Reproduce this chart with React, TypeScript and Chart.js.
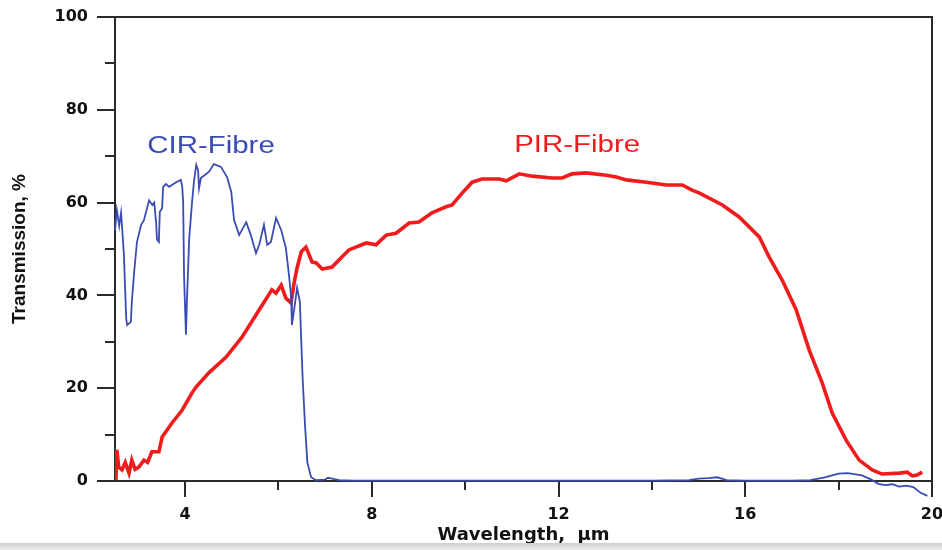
import React, { useEffect, useRef } from 'react';
import { Chart, registerables } from 'chart.js';

Chart.register(...registerables);

// CIR-Fibre (blue) spectrum
const cirWavelength = [
  2.5, 2.54, 2.59, 2.63, 2.67, 2.69, 2.74, 2.76, 2.84, 2.86,
  2.91, 2.97, 3.06, 3.12, 3.23, 3.3, 3.34, 3.38, 3.4, 3.44,
  3.46, 3.51, 3.53, 3.59, 3.66, 3.81, 3.91, 3.94, 3.96, 3.98,
  4.02, 4.04, 4.09, 4.15, 4.19, 4.24, 4.28, 4.3, 4.34, 4.51,
  4.62, 4.77, 4.9, 4.99, 5.05, 5.16, 5.31, 5.41, 5.52, 5.59,
  5.69, 5.76, 5.84, 5.95, 6.06, 6.16, 6.21, 6.27, 6.29, 6.36,
  6.4, 6.46, 6.49, 6.52, 6.57, 6.62, 6.7, 6.8, 7.0, 7.06,
  7.15, 7.3, 7.6, 8.0, 9.0, 10.0, 11.0, 12.0, 13.0, 14.0,
  14.8, 15.0, 15.2, 15.4, 15.6, 16.0, 17.0, 17.4, 17.7, 18.0,
  18.2, 18.5, 18.7, 18.85, 19.0, 19.15, 19.3, 19.45, 19.6, 19.75,
  19.9,
];
const cirTransmission = [
  54, 58.4, 55, 57.8, 52, 49, 35, 33.6, 34.3, 38.6,
  45, 51.5, 55.2, 56.2, 60.5, 59.5, 60, 55.8, 52, 51.5,
  58, 58.8, 63.4, 64, 63.4, 64.4, 64.9, 63.4, 60.1, 43.8,
  31.5, 38.6, 52.4, 60, 64.4, 68.1, 67, 63.1, 65.3, 66.6,
  68.3, 67.7, 65.5, 62.3, 56.3, 53, 55.8, 53, 49.1, 50.9,
  55.2, 50.9, 51.5, 56.7, 54.1, 50.2, 45.9, 40.1, 33.6, 38.6,
  41.6, 38.6, 30, 22, 12, 4, 0.8, 0.2, 0.3, 0.7,
  0.5, 0.2, 0.1, 0.1, 0.1, 0.1, 0.1, 0.1, 0.1, 0.1,
  0.2, 0.5, 0.6, 0.8, 0.2, 0.1, 0.1, 0.2, 0.8, 1.6,
  1.7, 1.2, 0.3, -0.6, -0.9, -0.7, -1.2, -1.0, -1.3, -2.5,
  -3.2,
];

// PIR-Fibre (red) spectrum
const pirWavelength = [
  2.52, 2.54, 2.58, 2.65, 2.72, 2.8, 2.86, 2.93, 3.01, 3.12,
  3.2, 3.29, 3.44, 3.51, 3.72, 3.94, 4.15, 4.24, 4.51, 4.88,
  5.22, 5.59, 5.86, 5.95, 6.06, 6.16, 6.27, 6.34, 6.4, 6.49,
  6.59, 6.66, 6.72, 6.81, 6.94, 7.15, 7.36, 7.51, 7.88, 8.09,
  8.31, 8.52, 8.8, 9.01, 9.29, 9.59, 9.72, 9.94, 10.15, 10.36,
  10.73, 10.88, 11.16, 11.44, 11.86, 12.08, 12.29, 12.59, 13.02, 13.24,
  13.45, 13.88, 14.31, 14.65, 14.86, 15.01, 15.51, 15.87, 16.3, 16.51,
  16.79, 17.09, 17.37, 17.65, 17.86, 18.16, 18.44, 18.72, 18.93, 19.3,
  19.47, 19.58, 19.68, 19.79,
];
const pirTransmission = [
  0.2, 6.7, 3, 2.4, 4, 1.7, 4.5, 2.5, 3, 4.5,
  4, 6.3, 6.3, 9.5, 12.5, 15.3, 19, 20.3, 23.3, 26.7,
  31, 36.9, 41.2, 40.5, 42.2, 39.4, 38.4, 42.9, 45.9, 49.4,
  50.4, 48.7, 47.2, 47, 45.7, 46.1, 48.3, 49.8, 51.3, 50.9,
  53, 53.4, 55.6, 55.8, 57.8, 59.1, 59.5, 62.1, 64.4, 65.1,
  65.1, 64.7, 66.2, 65.7, 65.3, 65.3, 66.2, 66.4, 65.9, 65.5,
  64.9, 64.4, 63.8, 63.8, 62.7, 62.1, 59.5, 56.9, 52.6, 48.3,
  43.3, 36.9, 28.2, 21.1, 14.7, 8.8, 4.5, 2.4, 1.5, 1.7,
  1.9, 1.1, 1.3, 1.9,
];

const xTickValues = [4, 8, 12, 16, 20];
const seriesNames = ['CIR-Fibre', 'PIR-Fibre'];
const xAxisTitle = 'Wavelength,  µm';
const yAxisTitle = 'Transmission, %';

// styling / placement (not data)
const seriesColors = ['#3a4cb4', '#f01b1b'];
const labelAnchors = [
  { x: 3.19, y: 70.7 },
  { x: 11.05, y: 70.9 },
];

const toPoints = (xs: number[], ys: number[]) => xs.map((x, i) => ({ x, y: ys[i] }));

const framePlugin = {
  id: 'frameAndTicks',
  beforeDatasetsDraw(chart: any) {
    const { ctx, chartArea, scales } = chart;
    const { left, right, top, bottom } = chartArea;
    ctx.save();
    ctx.strokeStyle = '#2a2a2a';
    ctx.lineWidth = 2;
    ctx.beginPath();
    ctx.rect(left, top, right - left, bottom - top);
    ctx.stroke();

    ctx.beginPath();
    const ys = scales.y;
    const yv = ys.ticks.map((t: any) => t.value);
    yv.forEach((v: number) => {
      const p = Math.round(ys.getPixelForValue(v));
      ctx.moveTo(left - 18, p);
      ctx.lineTo(left, p);
    });
    for (let i = 0; i < yv.length - 1; i++) {
      const p = Math.round(ys.getPixelForValue((yv[i] + yv[i + 1]) / 2));
      ctx.moveTo(left - 10, p);
      ctx.lineTo(left, p);
    }
    const xs = scales.x;
    const xv = xs.ticks.map((t: any) => t.value);
    xv.forEach((v: number) => {
      const p = Math.round(xs.getPixelForValue(v));
      ctx.moveTo(p, bottom);
      ctx.lineTo(p, bottom + 16);
    });
    for (let i = 0; i < xv.length - 1; i++) {
      const p = Math.round(xs.getPixelForValue((xv[i] + xv[i + 1]) / 2));
      ctx.moveTo(p, bottom);
      ctx.lineTo(p, bottom + 9);
    }
    ctx.stroke();
    ctx.restore();
  },
  afterDatasetsDraw(chart: any) {
    const { ctx, scales } = chart;
    ctx.save();
    ctx.font = '23px "Liberation Sans", Arial, sans-serif';
    ctx.textBaseline = 'alphabetic';
    ctx.textAlign = 'left';
    seriesNames.forEach((name, i) => {
      const px = scales.x.getPixelForValue(labelAnchors[i].x);
      const py = scales.y.getPixelForValue(labelAnchors[i].y);
      ctx.save();
      ctx.translate(px, py);
      ctx.scale(1.28, 1);
      ctx.fillStyle = seriesColors[i];
      ctx.fillText(name, 0, 0);
      ctx.restore();
    });
    ctx.restore();
  },
};

export default function App() {
  const canvasRef = useRef<HTMLCanvasElement | null>(null);

  useEffect(() => {
    if (!canvasRef.current) return;
    const chart = new Chart(canvasRef.current, {
      type: 'line',
      data: {
        datasets: [
          {
            label: seriesNames[0],
            data: toPoints(cirWavelength, cirTransmission),
            borderColor: seriesColors[0],
            borderWidth: 1.8,
            pointRadius: 0,
            tension: 0,
            fill: false,
            clip: false as any,
          },
          {
            label: seriesNames[1],
            data: toPoints(pirWavelength, pirTransmission),
            borderColor: seriesColors[1],
            borderWidth: 3.6,
            pointRadius: 0,
            tension: 0,
            fill: false,
          },
        ],
      },
      options: {
        animation: false,
        responsive: true,
        maintainAspectRatio: false,
        layout: { padding: { top: 17, right: 10, left: 0, bottom: 0 } },
        plugins: {
          legend: { display: false },
          tooltip: { enabled: false },
        },
        scales: {
          x: {
            type: 'linear',
            min: 2.5,
            max: 20,
            afterBuildTicks: (s: any) => {
              s.ticks = xTickValues.map((v) => ({ value: v }));
            },
            afterFit: (s: any) => {
              s.height = 69;
              s.paddingLeft = 0;
              s.paddingRight = 0;
            },
            grid: { display: false, drawTicks: false },
            border: { display: false },
            ticks: {
              padding: 24,
              color: '#111',
              font: { family: '"DejaVu Sans", sans-serif', size: 16, weight: 'bold' },
              maxRotation: 0,
            },
            title: {
              display: true,
              text: xAxisTitle,
              color: '#111',
              font: { family: '"DejaVu Sans", sans-serif', size: 18, weight: 'bold' },
              padding: { top: 0, bottom: 4 },
            },
          },
          y: {
            type: 'linear',
            min: 0,
            max: 100,
            ticks: {
              stepSize: 20,
              padding: 27,
              color: '#111',
              font: { family: '"DejaVu Sans", sans-serif', size: 16, weight: 'bold' },
            },
            afterFit: (s: any) => {
              s.width = 115;
              s.paddingTop = 0;
              s.paddingBottom = 0;
            },
            grid: { display: false, drawTicks: false },
            border: { display: false },
            title: {
              display: true,
              text: yAxisTitle,
              color: '#111',
              font: { family: '"Liberation Sans", Arial, sans-serif', size: 19, weight: 'bold' },
              padding: { top: 8, bottom: 0 },
            },
          },
        },
      },
      plugins: [framePlugin],
    } as any);
    return () => chart.destroy();
  }, []);

  return (
    <div style={{ position: 'fixed', left: 0, top: 0, width: 942, height: 550, background: '#fff' }}>
      <canvas ref={canvasRef} />
      <div
        style={{
          position: 'absolute',
          left: 0,
          top: 543,
          width: 942,
          height: 7,
          background: 'linear-gradient(to bottom, #cfcfcf, #ececec)',
        }}
      />
    </div>
  );
}
